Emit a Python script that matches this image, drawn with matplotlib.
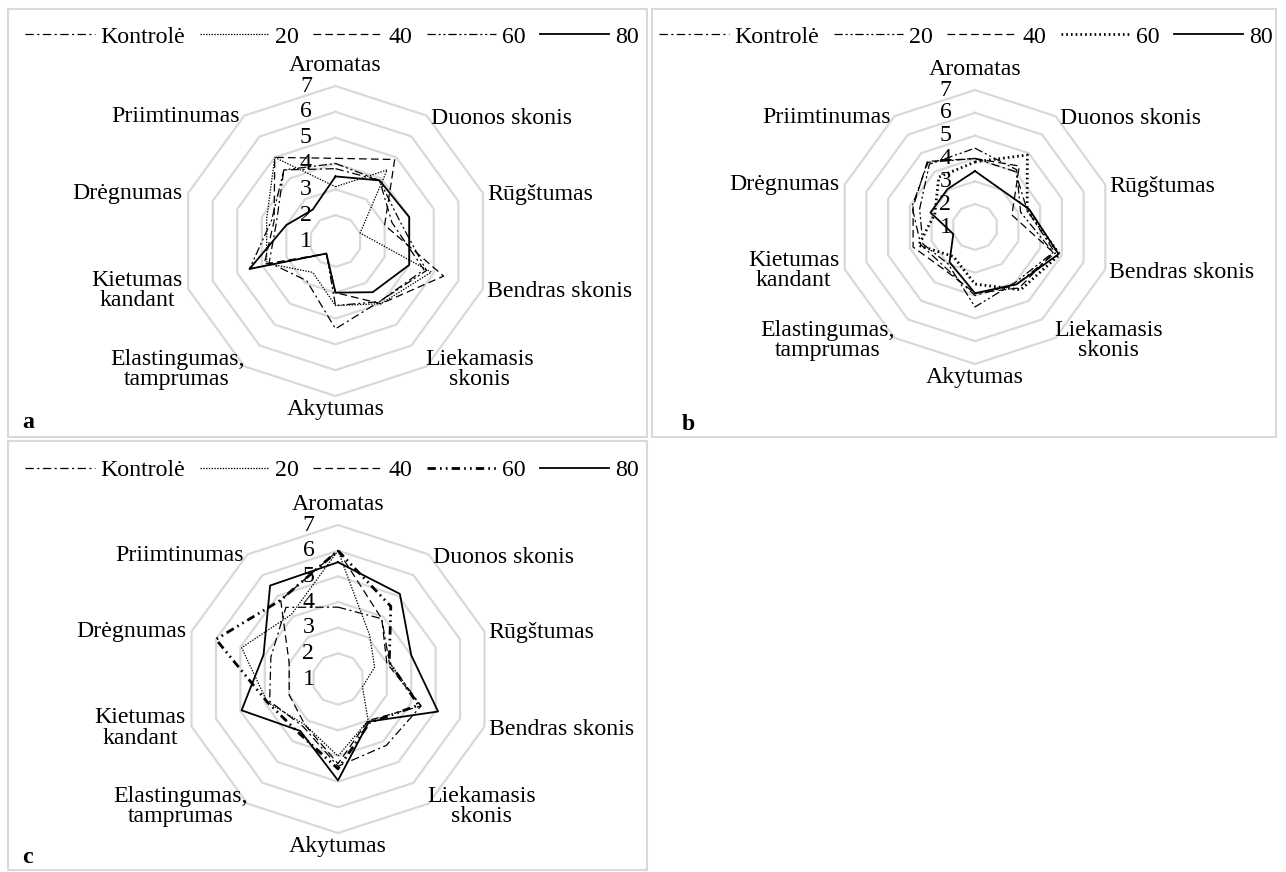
import numpy as np
import matplotlib
matplotlib.use("Agg")
import matplotlib.pyplot as plt
from matplotlib.patches import Rectangle

plt.rcParams['font.family'] = ['Liberation Serif', 'DejaVu Serif']
plt.rcParams['lines.scale_dashes'] = False

# Sensory attributes (clockwise from the top)
categories = ["Aromatas", "Duonos skonis", "Rūgštumas", "Bendras skonis",
              "Liekamasis\nskonis", "Akytumas", "Elastingumas,\ntamprumas",
              "Kietumas\nkandant", "Drėgnumas", "Priimtinumas"]
series_names = ["Kontrolė", "20", "40", "60", "80"]
ring_ticks = [1, 2, 3, 4, 5, 6, 7]

# Panel a
a_kontrole = [3.8, 3.9, 3.3, 4.6, 3.9, 4.4, 2.9, 3.7, 3.4, 4.4]
a_20 = [3.1, 4.4, 2.0, 4.9, 4.0, 3.5, 2.5, 3.8, 3.8, 5.0]
a_40 = [4.2, 4.9, 3.0, 5.4, 4.0, 3.0, 1.6, 3.9, 3.5, 5.0]
a_60 = [4.0, 3.9, 3.6, 4.7, 3.9, 3.5, 1.6, 4.5, 3.6, 4.4]
a_80 = [3.5, 3.9, 4.0, 4.0, 3.45, 3.0, 1.6, 4.5, 3.0, 2.5]

# Panel b
b_kontrole = [4.0, 4.0, 3.4, 4.7, 4.1, 4.0, 3.2, 3.5, 3.9, 4.5]
b_20 = [4.45, 4.1, 3.1, 4.6, 4.0, 4.5, 3.0, 3.4, 3.55, 4.4]
b_40 = [4.0, 4.3, 2.7, 4.6, 4.3, 3.9, 3.3, 3.85, 3.85, 4.55]
b_60 = [3.85, 4.9, 3.4, 4.9, 4.4, 3.5, 2.6, 3.6, 2.85, 3.7]
b_80 = [3.45, 3.0, 3.5, 4.85, 4.1, 3.9, 2.9, 2.0, 3.05, 3.05]

# Panel c
c_kontrole = [3.8, 3.9, 3.1, 4.4, 4.2, 4.4, 3.3, 3.8, 3.75, 4.45]
c_20 = [6.0, 3.1, 2.5, 2.0, 3.0, 4.0, 3.2, 3.9, 4.95, 4.1]
c_40 = [6.0, 3.9, 3.0, 4.4, 3.0, 4.3, 3.2, 3.0, 3.0, 4.8]
c_60 = [6.0, 4.5, 3.1, 4.3, 3.1, 4.5, 3.6, 3.9, 6.0, 4.8]
c_80 = [5.55, 5.1, 4.0, 5.1, 3.05, 4.95, 3.5, 4.95, 4.05, 5.5]

W, H = 1286, 872
fig = plt.figure(figsize=(W / 100, H / 100), dpi=100)
FS = 17.2
GRID = '#d9d9d9'

# line styles
DASHDOT = dict(ls=(0, (6, 2.5, 1.5, 2.5)), lw=0.9)
DOTFINE = dict(ls=(0, (1, 1)), lw=0.9)
DASHED = dict(ls=(0, (5.5, 3)), lw=0.9)
DASHDOTDOT = dict(ls=(0, (6, 2, 1.5, 2, 1.5, 2)), lw=0.9)
DOTBOLD = dict(ls=(0, (1.2, 2.2)), lw=2.0)
THICKDDD = dict(ls=(0, (6, 3, 1.2, 3, 1.2, 3)), lw=2.0)
SOLID = dict(ls='-', lw=1.3)

# label offsets (points) and alignment per attribute
label_pos = [((0, 14.5), 'center'), ((3, -2), 'left'), ((3, -1), 'left'),
             ((3, -2), 'left'), ((-1, -2), 'left'), ((0, -10), 'center'),
             ((0, -2), 'right'), ((-4, -1), 'right'), ((-4, 0), 'right'),
             ((-3, -1), 'right')]


def radar(cx, cy, R, data, styles, letter, letter_xy, legend_xy):
    ax = fig.add_axes([(cx - R) / W, (H - cy - R) / H, 2 * R / W, 2 * R / H],
                      projection='polar')
    ax.set_theta_zero_location('N')
    ax.set_theta_direction(-1)
    ax.set_ylim(ring_ticks[0], ring_ticks[-1])
    ax.grid(False)
    ax.set_xticks([])
    ax.set_yticks([])
    ax.spines['polar'].set_visible(False)
    ax.patch.set_visible(False)

    n = len(categories)
    theta = np.linspace(0, 2 * np.pi, n, endpoint=False)
    closed = np.append(theta, theta[0])
    for t in ring_ticks[1:]:
        ax.plot(closed, np.full(n + 1, t), color=GRID, lw=1.6, zorder=1,
                clip_on=False)
    for t in ring_ticks:
        ax.annotate(str(t), xy=(0, t), xytext=(-17, 0),
                    textcoords='offset points', ha='right', va='center',
                    fontsize=FS, zorder=2)
    for th, name, (off, ha) in zip(theta, categories, label_pos):
        ax.annotate(name, xy=(th, ring_ticks[-1]), xytext=off,
                    textcoords='offset points', ha=ha, va='center',
                    fontsize=FS, multialignment='center', linespacing=0.95,
                    annotation_clip=False)
    for vals, name, st in zip(data, series_names, styles):
        v = np.asarray(vals, dtype=float)
        ax.plot(closed, np.append(v, v[0]), color='black', label=name,
                clip_on=False, zorder=3, **st)
    ax.legend(loc='center', bbox_to_anchor=(legend_xy[0] / W, 1 - legend_xy[1] / H),
              bbox_transform=fig.transFigure, ncol=5, frameon=False,
              fontsize=FS, handlelength=2.9, handletextpad=0.25,
              columnspacing=0.6, borderpad=0, borderaxespad=0)
    fig.text(letter_xy[0] / W, 1 - letter_xy[1] / H, letter, fontsize=FS,
             fontweight='bold', ha='left', va='center')


def panel_box(x0, y0, x1, y1):
    fig.add_artist(Rectangle((x0 / W, 1 - y1 / H), (x1 - x0) / W, (y1 - y0) / H,
                             transform=fig.transFigure, fill=False,
                             ec=GRID, lw=1.5))


panel_box(8, 9, 647, 437)
panel_box(652, 9, 1276, 437)
panel_box(8, 441, 647, 870)

radar(335.5, 241, 155, [a_kontrole, a_20, a_40, a_60, a_80],
      [DASHDOT, DOTFINE, DASHED, DASHDOTDOT, SOLID], 'a', (22, 422), (332, 37))
radar(975, 227, 137, [b_kontrole, b_20, b_40, b_60, b_80],
      [DASHDOT, DASHDOTDOT, DASHED, DOTBOLD, SOLID], 'b', (682, 425), (966, 37))
radar(338, 679, 154, [c_kontrole, c_20, c_40, c_60, c_80],
      [DASHDOT, DOTFINE, DASHED, THICKDDD, SOLID], 'c', (22, 857), (332, 470))

fig.savefig('out.png', dpi=100)
